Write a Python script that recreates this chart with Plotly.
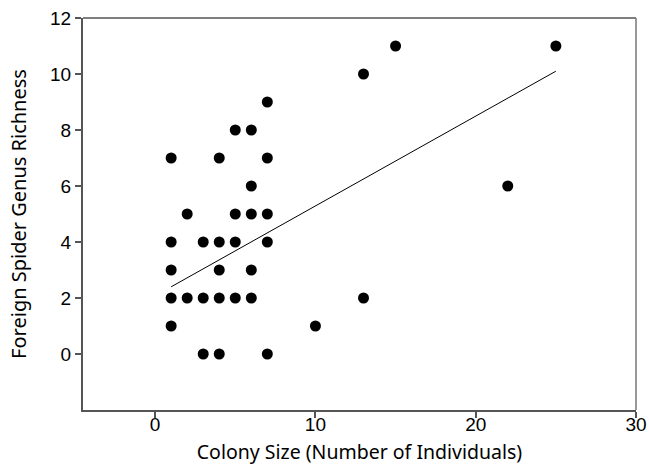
import plotly.graph_objects as go

colony_size = [1, 1, 1, 1, 1,
               2, 2,
               3, 3, 3,
               4, 4, 4, 4, 4,
               5, 5, 5, 5,
               6, 6, 6, 6, 6,
               7, 7, 7, 7, 7,
               10, 13, 13, 15, 22, 25]
genus_richness = [7, 4, 3, 2, 1,
                  5, 2,
                  4, 2, 0,
                  7, 4, 3, 2, 0,
                  8, 5, 4, 2,
                  8, 6, 5, 3, 2,
                  9, 7, 5, 4, 0,
                  1, 10, 2, 11, 6, 11]
fit_x = [1, 25]
fit_y = [2.4, 10.1]

x_ticks = [0, 10, 20, 30]
y_ticks = [0, 2, 4, 6, 8, 10, 12]

fig = go.Figure()
fig.add_trace(go.Scatter(x=fit_x, y=fit_y, mode="lines",
                         line=dict(color="black", width=1), showlegend=False))
fig.add_trace(go.Scatter(x=colony_size, y=genus_richness, mode="markers",
                         marker=dict(color="black", size=11), showlegend=False))

axis_common = dict(showgrid=False, zeroline=False, ticks="outside", ticklen=6,
                   tickcolor="#555", tickwidth=1.5, automargin=False,
                   showline=True, linecolor="#555", linewidth=2,
                   tickfont=dict(family="Liberation Sans, Arial", size=19, color="black"))

fig.update_xaxes(range=[-4.5, 30], tickvals=x_ticks, **axis_common,
                 ticklabelstandoff=-10,
                 title=dict(text="Colony Size (Number of Individuals)",
                            font=dict(family="Noto Sans", size=19.5, color="black"),
                            standoff=12))
fig.update_yaxes(range=[-2, 12], tickvals=y_ticks, **axis_common,
                 title=dict(text="Foreign Spider Genus Richness",
                            font=dict(family="Noto Sans", size=20, color="black"),
                            standoff=18))

# top and right frame lines
fig.add_shape(type="line", xref="paper", yref="paper", x0=0, x1=1, y0=1, y1=1,
              line=dict(color="black", width=1.2))
fig.add_shape(type="line", xref="paper", yref="paper", x0=1, x1=1, y0=0, y1=1,
              line=dict(color="#777", width=1.5))

fig.update_layout(width=649, height=469, plot_bgcolor="white", paper_bgcolor="white",
                  margin=dict(l=83, r=13, t=18, b=59))

fig.write_html("out.html")
